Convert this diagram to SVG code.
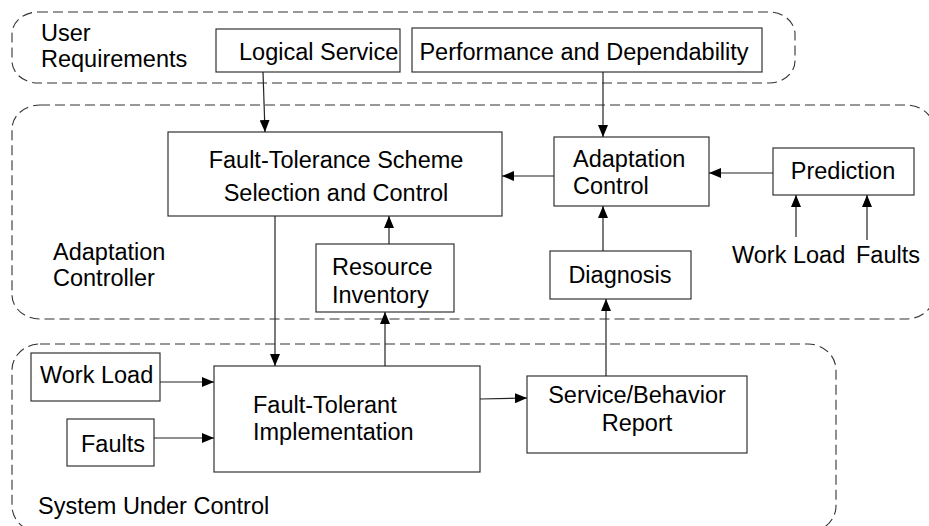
<svg xmlns="http://www.w3.org/2000/svg" width="929" height="526" viewBox="0 0 929 526">
<style>
.region{fill:none;stroke:#333;stroke-width:1.1;stroke-dasharray:10,5}
.box{fill:#fff;stroke:#333;stroke-width:1.2}
.t{font-family:"Liberation Sans",Arial,sans-serif;font-size:23.5px;fill:#000}
.c{text-anchor:middle}
.arr{fill:none;stroke:#222;stroke-width:1.2;marker-end:url(#ah)}
</style>
<defs>
<marker id="ah" markerUnits="userSpaceOnUse" markerWidth="12" markerHeight="10" refX="12" refY="5" orient="auto">
<path d="M0,0 L12,5 L0,10 z" fill="#000"/>
</marker>
</defs>
<rect width="929" height="526" fill="#fff"/>
<g id="user-requirements">
<rect class="region" x="12" y="12" width="783" height="71" rx="26" ry="22"/>
<text class="t" x="41" y="41">User</text>
<text class="t" x="41" y="67">Requirements</text>
</g>
<g id="adaptation-controller">
<rect class="region" x="12" y="105" width="922" height="214" rx="28" ry="24"/>
<text class="t" x="53" y="260">Adaptation</text>
<text class="t" x="53" y="286">Controller</text>
</g>
<g id="system-under-control">
<rect class="region" x="12" y="344" width="824" height="188" rx="28" ry="26"/>
<text class="t" x="38" y="514">System Under Control</text>
</g>
<g id="logical-service">
<rect class="box" x="216" y="29" width="184" height="43"/>
<text class="t" x="239" y="60">Logical Service</text>
</g>
<g id="performance">
<rect class="box" x="412" y="28" width="350" height="44"/>
<text class="t c" x="584" y="60">Performance and Dependability</text>
</g>
<g id="ft-scheme">
<rect class="box" x="168" y="132" width="334" height="84"/>
<text class="t c" x="336" y="168">Fault-Tolerance Scheme</text>
<text class="t c" x="336" y="201">Selection and Control</text>
</g>
<g id="adaptation-control">
<rect class="box" x="554" y="137" width="155" height="69"/>
<text class="t" x="573" y="167">Adaptation</text>
<text class="t" x="573" y="194">Control</text>
</g>
<g id="prediction">
<rect class="box" x="773" y="148" width="141" height="47"/>
<text class="t c" x="843" y="179">Prediction</text>
</g>
<g id="workload-label">
<text class="t" x="732" y="263">Work Load</text>
</g>
<g id="faults-label">
<text class="t" x="856" y="263">Faults</text>
</g>
<g id="diagnosis">
<rect class="box" x="550" y="251" width="141" height="48"/>
<text class="t c" x="620" y="283">Diagnosis</text>
</g>
<g id="resource-inventory">
<rect class="box" x="316" y="244" width="138" height="68"/>
<text class="t" x="332" y="275">Resource</text>
<text class="t" x="332" y="303">Inventory</text>
</g>
<g id="ft-implementation">
<rect class="box" x="214" y="366" width="266" height="106"/>
<text class="t" x="253" y="413">Fault-Tolerant</text>
<text class="t" x="253" y="440">Implementation</text>
</g>
<g id="work-load">
<rect class="box" x="31" y="353" width="129" height="48"/>
<text class="t" x="40" y="383">Work Load</text>
</g>
<g id="faults">
<rect class="box" x="67" y="419" width="87" height="47"/>
<text class="t" x="81" y="452">Faults</text>
</g>
<g id="service-report">
<rect class="box" x="527" y="376" width="220" height="77"/>
<text class="t c" x="637" y="403">Service/Behavior</text>
<text class="t c" x="637" y="431">Report</text>
</g>
<g id="connectors">
<line class="arr" x1="263" y1="72" x2="265" y2="132"/>
<line class="arr" x1="603" y1="72" x2="603" y2="137"/>
<line class="arr" x1="554" y1="176" x2="502" y2="176"/>
<line class="arr" x1="773" y1="173" x2="709" y2="173"/>
<line class="arr" x1="796" y1="237" x2="796" y2="195"/>
<line class="arr" x1="867" y1="240" x2="867" y2="195"/>
<line class="arr" x1="603" y1="251" x2="603" y2="206"/>
<line class="arr" x1="606" y1="376" x2="606" y2="299"/>
<line class="arr" x1="389" y1="244" x2="389" y2="216"/>
<line class="arr" x1="385" y1="366" x2="385" y2="312"/>
<line class="arr" x1="275" y1="216" x2="275" y2="366"/>
<line class="arr" x1="160" y1="382" x2="214" y2="382"/>
<line class="arr" x1="154" y1="438" x2="214" y2="438"/>
<line class="arr" x1="480" y1="399" x2="527" y2="398"/>
</g>
</svg>
